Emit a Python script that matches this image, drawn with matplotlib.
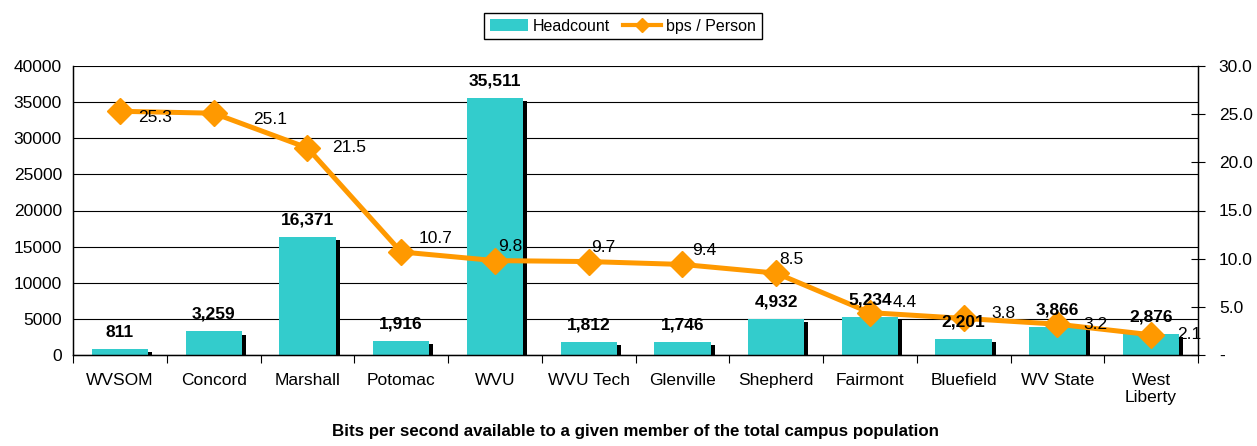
import numpy as np
import matplotlib
matplotlib.use("Agg")
import matplotlib.pyplot as plt
from matplotlib import patheffects
from matplotlib.patches import Patch
from matplotlib.lines import Line2D

CAMPUS = ["WVSOM", "Concord", "Marshall", "Potomac", "WVU", "WVU Tech",
          "Glenville", "Shepherd", "Fairmont", "Bluefield", "WV State",
          "West\nLiberty"]
HEADCOUNT = [811, 3259, 16371, 1916, 35511, 1812, 1746, 4932, 5234, 2201,
             3866, 2876]
BPS = [25.3, 25.1, 21.5, 10.7, 9.8, 9.7, 9.4, 8.5, 4.4, 3.8, 3.2, 2.1]

# hand-tuned label offsets (pixels) for the bps labels, like the original
BPS_OFFS = [(18, -6), (40, -6), (25, 0), (17, 13), (3, 14), (3, 14),
            (10, 14), (3, 14), (23, 10), (28, 5), (26, 0), (26, 0)]

TEAL, ORANGE = "#33CCCC", "#FF9900"
FS = 12.5

plt.rcParams.update({"font.family": ["Liberation Sans", "DejaVu Sans"],
                     "font.size": FS})

fig = plt.figure(figsize=(12.57, 4.46), dpi=100)
ax = fig.add_axes([73 / 1257, 91 / 446, 1125 / 1257, 289 / 446])
x = np.arange(len(CAMPUS))

shadow = [patheffects.SimplePatchShadow(offset=(2.9, -2.2),
                                        shadow_rgbFace="black", alpha=1.0),
          patheffects.Normal()]
bars = ax.bar(x, HEADCOUNT, width=0.6, color=TEAL, zorder=2)
for b in bars:
    b.set_path_effects(shadow)

ax.set_xlim(-0.5, len(CAMPUS) - 0.5)
ax.set_ylim(0, 40000)
ax.set_yticks(np.arange(0, 40001, 5000))
ax.yaxis.grid(True, color="black", lw=0.8)
ax.set_axisbelow(True)
ax.tick_params(axis="y", length=0, pad=8)
ax.set_xticks(np.arange(-0.5, len(CAMPUS), 1))
ax.set_xticklabels([])
ax.set_xticks(x, minor=True)
ax.set_xticklabels(CAMPUS, minor=True)
ax.tick_params(axis="x", which="major", length=6, direction="out")
ax.tick_params(axis="x", which="minor", length=0, pad=13)
ax.spines["top"].set_visible(False)
for s in ("left", "right", "bottom"):
    ax.spines[s].set_linewidth(1.0)
ax.set_xlabel("Bits per second available to a given member of the total "
              "campus population", fontweight="bold", fontsize=12.2,
              labelpad=13)

ax2 = ax.twinx()
ax2.plot(x, BPS, color=ORANGE, lw=3.6, marker="D", ms=13, mew=1,
         mec=ORANGE, zorder=3)
ax2.set_ylim(0, 30)
ax2.set_yticks(np.arange(0, 31, 5))
ax2.set_yticklabels(["-"] + [f"{v:.1f}" for v in np.arange(5, 31, 5)])
ax2.tick_params(axis="y", direction="inout", length=10, pad=10)
ax2.spines["top"].set_visible(False)

for xi, v, (dx, dy) in zip(x, BPS, BPS_OFFS):
    ax2.annotate(f"{v:.1f}", (xi, v), textcoords="offset pixels",
                 xytext=(dx, dy), ha="left", va="center", fontsize=FS)

for xi, h in zip(x, HEADCOUNT):
    ax2.annotate(f"{h:,}", (xi, h), xycoords=ax.transData,
                 textcoords="offset pixels", xytext=(0, 17), ha="center",
                 va="center", fontweight="bold", fontsize=FS)

handles = [Patch(facecolor=TEAL, edgecolor="none"),
           Line2D([], [], color=ORANGE, lw=3, marker="D", ms=7)]
fig.legend(handles, ["Headcount", "bps / Person"], loc="upper center",
           bbox_to_anchor=(623 / 1257, 1 - 5 / 446), ncol=2, fontsize=11.5,
           frameon=True, fancybox=False, edgecolor="black", framealpha=1,
           handlelength=2.4, borderpad=0.35, columnspacing=0.8,
           handletextpad=0.3)

fig.savefig("out.png", dpi=100)
